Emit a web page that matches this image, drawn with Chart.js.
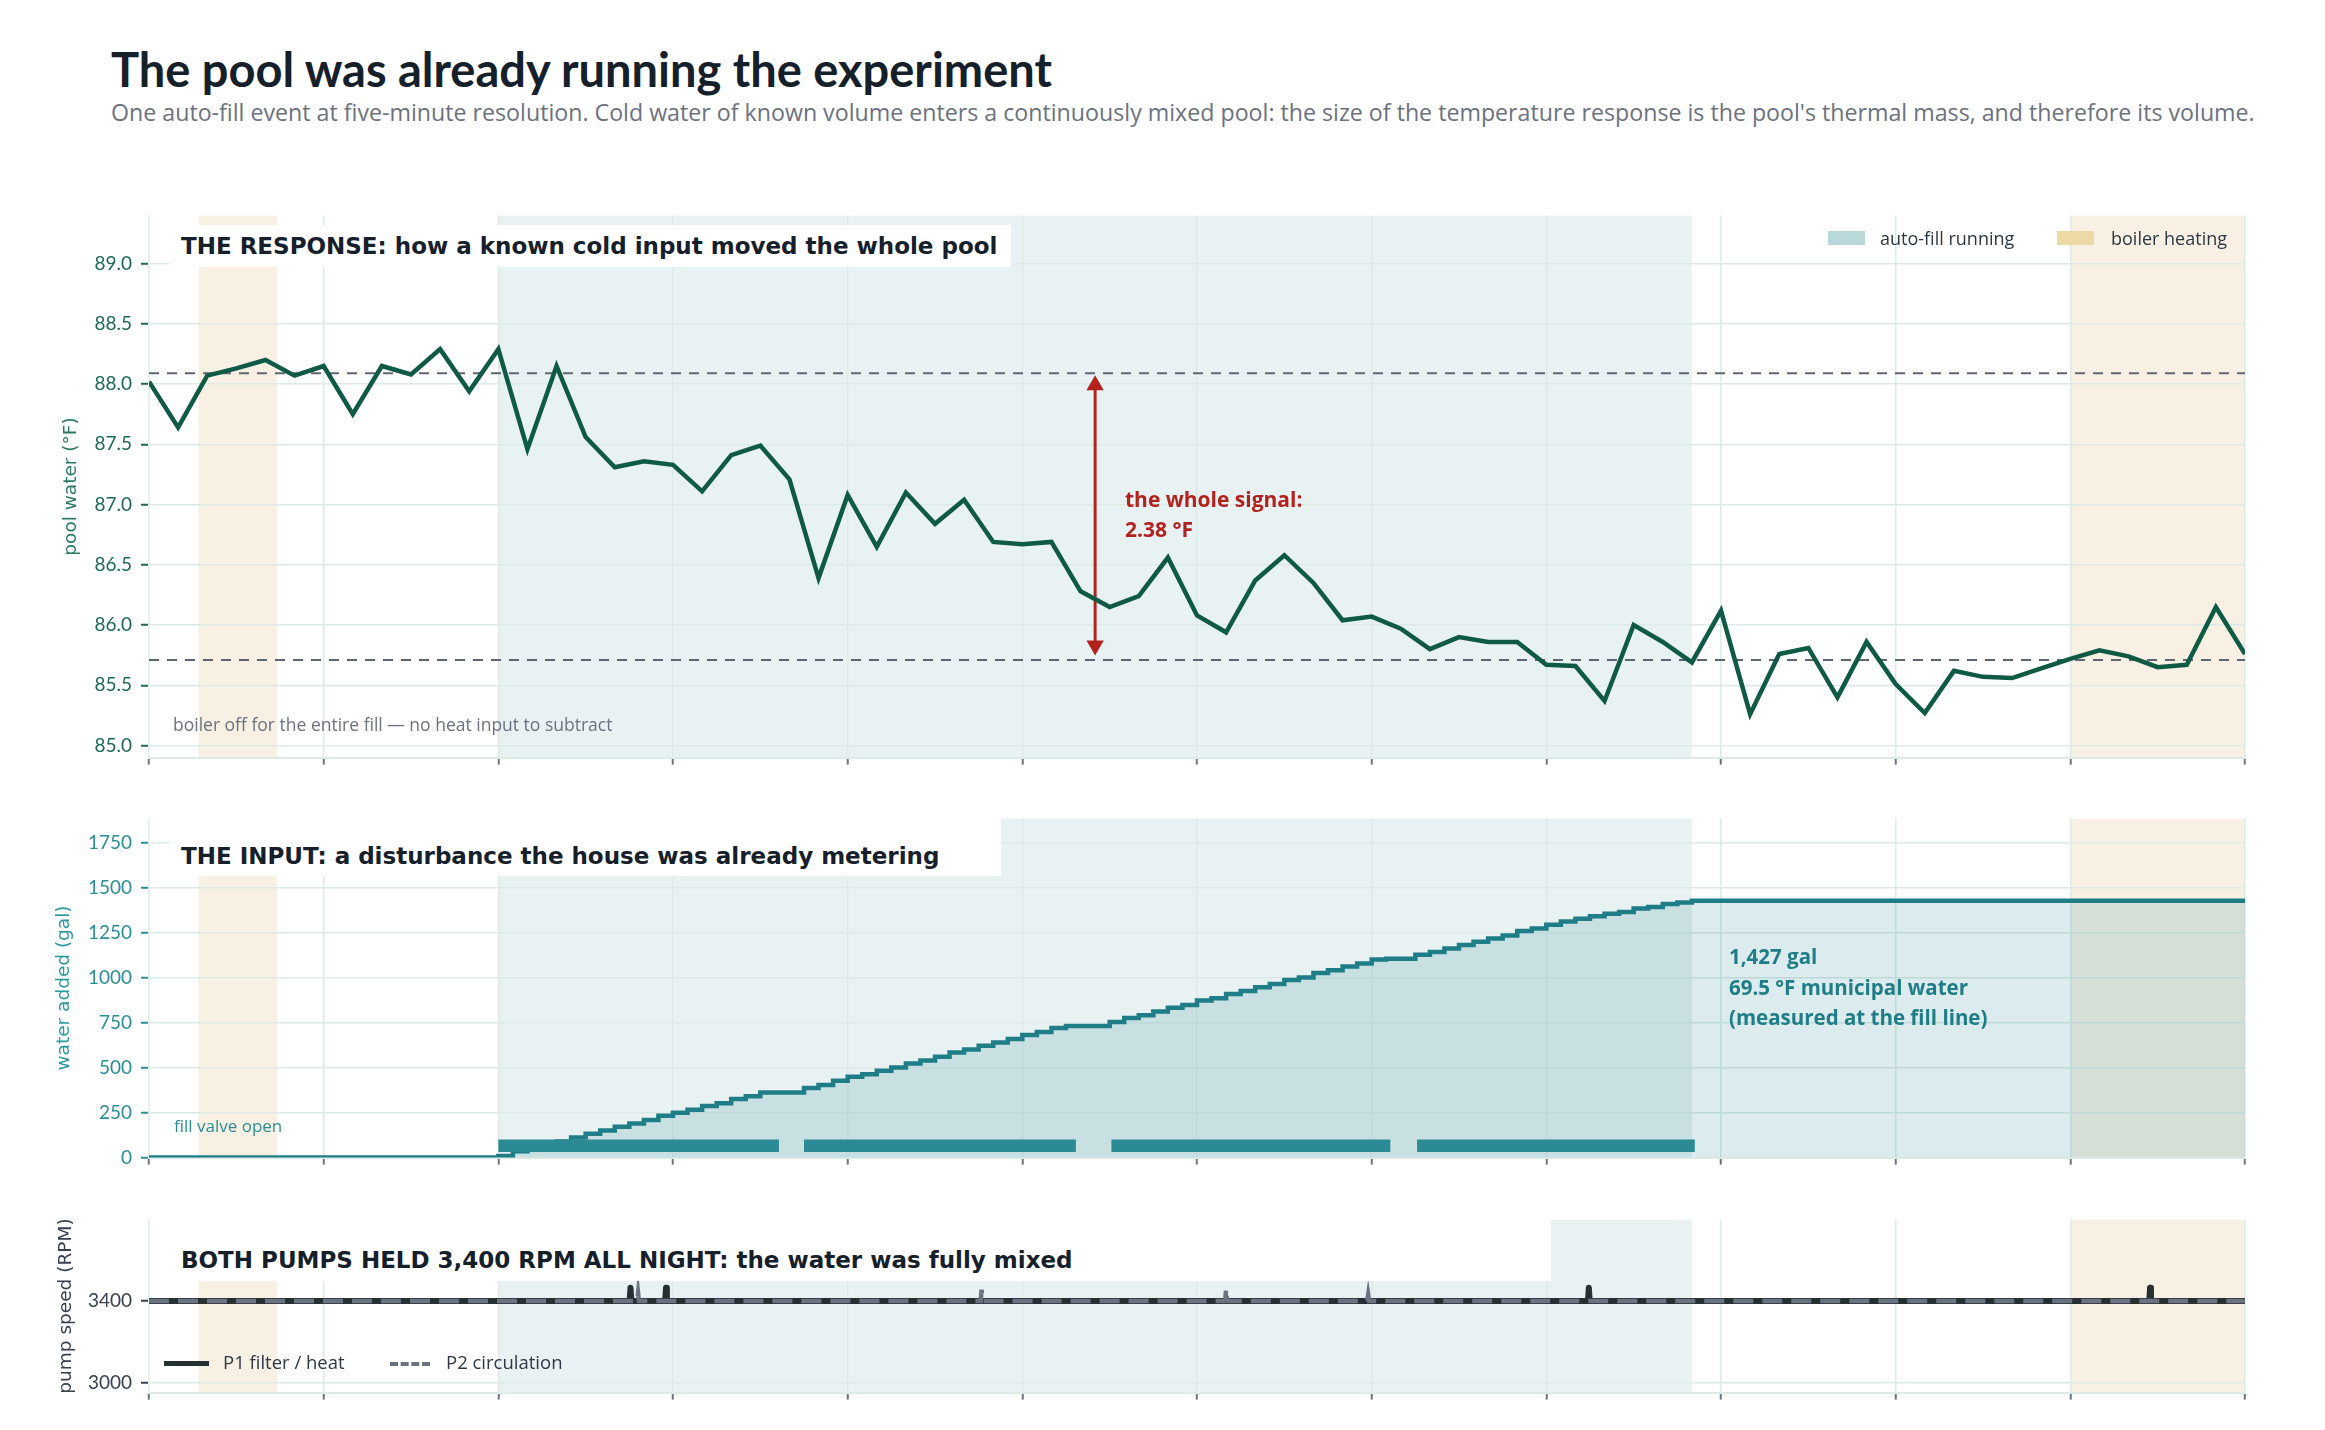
<!DOCTYPE html>
<html>
<head>
<meta charset="utf-8">
<title>The pool was already running the experiment</title>
<script src="https://cdn.jsdelivr.net/npm/chart.js@4.4.1/dist/chart.umd.min.js"></script>
<style>
  html, body { margin: 0; padding: 0; background: #fff; }
  #page { position: relative; width: 2325px; height: 1430px; overflow: hidden; font-family: 'Open Sans', Lato, sans-serif; }
  #page canvas { position: absolute; left: 0; }
  .txt { position: absolute; white-space: nowrap; line-height: 1; }
  .box { position: absolute; background: #fff; }
  .panel-title { font-family: 'DejaVu Sans', sans-serif; font-weight: bold; font-size: 23px; color: #15202b; }
  .swatch { position: absolute; width: 37px; height: 14px; }
</style>
</head>
<body>
<div id="page">
  <div class="txt" style="left:111px;top:46px;font-family:Lato,sans-serif;font-size:47px;font-weight:700;color:#15202b;">The pool was already running the experiment</div>
  <div class="txt" style="left:111px;top:101px;font-size:23.2px;color:#6b7280;">One auto-fill event at five-minute resolution. Cold water of known volume enters a continuously mixed pool: the size of the temperature response is the pool's thermal mass, and therefore its volume.</div>

  <canvas id="tempChart" width="2325" height="583" style="top:195px"></canvas>
  <canvas id="waterChart" width="2325" height="380" style="top:798px"></canvas>
  <canvas id="pumpChart" width="2325" height="214" style="top:1199px"></canvas>

  <!-- panel 1 -->
  <div class="box" style="left:169px;top:225px;width:842px;height:42px;"></div>
  <div class="txt panel-title" style="left:181px;top:235px;">THE RESPONSE: how a known cold input moved the whole pool</div>
  <div class="swatch" style="left:1828px;top:231px;background:#b8d8da;"></div>
  <div class="txt" style="left:1880px;top:229px;font-size:18px;color:#2d3748;">auto-fill running</div>
  <div class="swatch" style="left:2057px;top:231px;background:#ecd9a6;"></div>
  <div class="txt" style="left:2111px;top:229px;font-size:18px;color:#2d3748;">boiler heating</div>
  <div class="txt" style="left:1125px;top:484px;font-size:21px;font-weight:700;color:#b3221c;line-height:30px;">the whole signal:<br>2.38 °F</div>
  <div class="txt" style="left:173px;top:716px;font-size:17.5px;color:#6b7280;">boiler off for the entire fill — no heat input to subtract</div>

  <!-- panel 2 -->
  <div class="box" style="left:169px;top:798px;width:832px;height:78px;"></div>
  <div class="txt panel-title" style="left:181px;top:845px;">THE INPUT: a disturbance the house was already metering</div>
  <div class="txt" style="left:1729px;top:941px;font-size:20.5px;font-weight:700;color:#1e7d87;line-height:30.5px;">1,427 gal<br>69.5 °F municipal water<br>(measured at the fill line)</div>
  <div class="txt" style="left:174px;top:1117px;font-size:17px;color:#2a8f98;">fill valve open</div>

  <!-- panel 3 -->
  <div class="box" style="left:169px;top:1199px;width:1382px;height:82px;"></div>
  <div class="txt panel-title" style="left:181px;top:1249px;">BOTH PUMPS HELD 3,400 RPM ALL NIGHT: the water was fully mixed</div>
  <div style="position:absolute;left:164px;top:1361px;width:45px;height:0;border-top:5px solid #263033;"></div>
  <div class="txt" style="left:223px;top:1353px;font-size:18.5px;color:#2d3748;">P1 filter / heat</div>
  <div style="position:absolute;left:390px;top:1362px;width:40px;height:0;border-top:4px dashed #6b7280;"></div>
  <div class="txt" style="left:446px;top:1353px;font-size:18.5px;color:#2d3748;">P2 circulation</div>
</div>

<script>
// minutes from the start of the window
const xTickMinutes = [0, 30, 60, 90, 120, 150, 180, 210, 240, 270, 300, 330, 360];

// pool temperature, one reading every 5 minutes
const TEMP_STEP_MIN = 5;
const tempF = [
  88.02, 87.64, 88.07, 88.13, 88.20, 88.07, 88.15, 87.75, 88.15, 88.08,
  88.29, 87.94, 88.29, 87.46, 88.15, 87.56, 87.31, 87.36, 87.33, 87.11,
  87.41, 87.49, 87.21, 86.39, 87.08, 86.65, 87.10, 86.84, 87.04, 86.69,
  86.67, 86.69, 86.28, 86.15, 86.24, 86.56, 86.08, 85.94, 86.37, 86.58,
  86.35, 86.04, 86.07, 85.97, 85.80, 85.90, 85.86, 85.86, 85.67, 85.66,
  85.37, 86.00, 85.86, 85.69, 86.12, 85.26, 85.76, 85.81, 85.40, 85.86,
  85.51, 85.27, 85.62, 85.57, 85.56, 85.64, 85.72, 85.79, 85.74, 85.65,
  85.67, 86.15, 85.76
];
const tempTicks = [85.0, 85.5, 86.0, 86.5, 87.0, 87.5, 88.0, 88.5, 89.0];
const levelBefore = 88.09;
const levelAfter = 85.71;
const signalMin = 162.5;
const arrowEnds = [87.99, 85.83];

// cumulative water from the fill meter, every 2.5 minutes
const WATER_STEP_MIN = 2.5;
const waterGal = [
  0, 0, 0, 0, 0, 0, 0, 0, 0, 0, 0, 0, 0, 0, 0, 0, 0, 0, 0, 0, 0, 0, 0, 0,
  9, 35, 51, 73, 90, 112, 132, 150, 172, 189,
  209, 233, 249, 266, 286, 302, 326, 341, 361, 361,
  361, 386, 403, 427, 449, 463, 482, 500, 522, 540,
  560, 584, 601, 621, 639, 659, 681, 698, 720, 731,
  731, 731, 753, 775, 790, 812, 832, 848, 872, 885,
  909, 925, 946, 964, 986, 1001, 1025, 1041, 1061, 1078,
  1100, 1105, 1105, 1126, 1142, 1162, 1181, 1199, 1217, 1234,
  1258, 1272, 1294, 1311, 1327, 1340, 1355, 1364, 1383, 1392,
  1408, 1417,
  1427, 1427, 1427, 1427, 1427, 1427, 1427, 1427, 1427, 1427,
  1427, 1427, 1427, 1427, 1427, 1427, 1427, 1427, 1427, 1427,
  1427, 1427, 1427, 1427, 1427, 1427, 1427, 1427, 1427, 1427,
  1427, 1427, 1427, 1427, 1427, 1427, 1427, 1427, 1427
];
const waterTicks = [0, 250, 500, 750, 1000, 1250, 1500, 1750];
const valveOpen = [[60, 108.2], [112.5, 159.2], [165.3, 213.2], [217.8, 265.5]];
const valveBarGal = 66;

// pump speeds (sparse: flat at 3400 with brief blips)
const p1Min = [0, 82.55, 82.7, 82.85, 88.65, 88.8, 88.95, 247.15, 247.3, 247.45, 343.55, 343.7, 343.85, 360];
const p1Rpm = [3400, 3400, 3465, 3400, 3400, 3465, 3400, 3400, 3465, 3400, 3400, 3465, 3400, 3400];
const p2Min = [0, 83.85, 84.0, 84.15, 142.85, 143.0, 143.15, 184.85, 185.0, 185.15, 209.25, 209.4, 209.55, 360];
const p2Rpm = [3400, 3400, 3440, 3400, 3400, 3455, 3400, 3400, 3460, 3400, 3400, 3430, 3400, 3400];
const pumpTicks = [3000, 3400];

// shaded periods
const autoFillBand = [60, 265];
const boilerBands = [[8.5, 22], [330, 360]];

const GRID = '#dcebe6';
const RED = '#b3221c';

Chart.defaults.font.family = 'Lato, sans-serif';
Chart.defaults.animation = false;

const bandPlugin = {
  id: 'bands',
  beforeDraw(chart) {
    const { ctx, chartArea: a, scales: { x } } = chart;
    ctx.save();
    ctx.beginPath();
    ctx.rect(a.left, a.top, a.width, a.height);
    ctx.clip();
    const paint = (from, to, color) => {
      const l = x.getPixelForValue(from);
      const r = x.getPixelForValue(to);
      ctx.fillStyle = color;
      ctx.fillRect(l, a.top, r - l, a.height);
    };
    paint(autoFillBand[0], autoFillBand[1], '#e9f2f3');
    boilerBands.forEach(b => paint(b[0], b[1], '#f8f1e3'));
    ctx.restore();
  }
};

const xScale = () => ({
  type: 'linear',
  min: 0,
  max: 360,
  afterBuildTicks: s => { s.ticks = xTickMinutes.map(v => ({ value: v })); },
  afterFit: s => { s.height = 20; },
  ticks: { display: false },
  grid: { color: GRID, lineWidth: 1.5, tickColor: '#6b7280', tickLength: 7, tickWidth: 2 },
  border: { color: GRID, width: 2 }
});

const yScale = (min, max, ticks, color, title, titleColor, titlePad, fmt) => ({
  min: min,
  max: max,
  afterBuildTicks: s => { s.ticks = ticks.map(v => ({ value: v })); },
  afterFit: s => { s.width = 149; },
  ticks: { color: color, font: { size: 19 }, padding: 9, callback: fmt },
  grid: { color: GRID, lineWidth: 1.5, tickColor: color, tickLength: 8, tickWidth: 2 },
  border: { color: '#e6f0ed', width: 1.5 },
  title: {
    display: true,
    text: title,
    color: titleColor,
    font: { family: 'DejaVu Sans', size: 18.5 },
    padding: { top: titlePad, bottom: 0 }
  }
});

const commonOptions = (padTop, y) => ({
  responsive: false,
  layout: { padding: { top: padTop, right: 80, bottom: 0, left: 0 } },
  plugins: { legend: { display: false }, tooltip: { enabled: false } },
  scales: { x: xScale(), y: y }
});

// --- response: pool temperature
new Chart(document.getElementById('tempChart'), {
  type: 'line',
  data: {
    datasets: [
      {
        label: 'pool water (°F)',
        data: tempF.map((v, i) => ({ x: i * TEMP_STEP_MIN, y: v })),
        borderColor: '#0f5a44',
        borderWidth: 4.5,
        pointRadius: 0,
        order: 0
      },
      {
        label: 'level before fill',
        data: [{ x: 0, y: levelBefore }, { x: 360, y: levelBefore }],
        borderColor: '#5f6673',
        borderWidth: 2,
        borderDash: [10, 8],
        pointRadius: 0,
        order: 2
      },
      {
        label: 'level after fill',
        data: [{ x: 0, y: levelAfter }, { x: 360, y: levelAfter }],
        borderColor: '#5f6673',
        borderWidth: 2,
        borderDash: [10, 8],
        pointRadius: 0,
        order: 2
      },
      {
        label: 'whole signal',
        data: [{ x: signalMin, y: arrowEnds[0] }, { x: signalMin, y: arrowEnds[1] }],
        borderColor: RED,
        borderWidth: 3,
        pointStyle: 'triangle',
        pointRadius: 7,
        pointRotation: [0, 180],
        pointBackgroundColor: RED,
        pointBorderColor: RED,
        order: 1
      }
    ]
  },
  options: commonOptions(18, yScale(84.9, 89.4, tempTicks, '#1d6b55', 'pool water (°F)', '#2b7a5f', 60, v => v.toFixed(1))),
  plugins: [bandPlugin]
});

// --- input: water added
const valveData = [];
valveOpen.forEach(seg => {
  valveData.push({ x: seg[0], y: valveBarGal }, { x: seg[1], y: valveBarGal }, { x: seg[1], y: null });
});

new Chart(document.getElementById('waterChart'), {
  type: 'line',
  data: {
    datasets: [
      {
        label: 'water added (gal)',
        data: waterGal.map((v, h) => ({ x: h * WATER_STEP_MIN, y: v })),
        stepped: 'before',
        fill: 'origin',
        backgroundColor: 'rgba(38, 128, 142, 0.16)',
        borderColor: '#1e7d87',
        borderWidth: 4.5,
        pointRadius: 0,
        order: 1
      },
      {
        label: 'fill valve open',
        data: valveData,
        borderColor: '#2b8a94',
        borderWidth: 12.5,
        borderCapStyle: 'butt',
        spanGaps: false,
        pointRadius: 0,
        order: 0
      }
    ]
  },
  options: commonOptions(18, yScale(0, 1884, waterTicks, '#2a8f98', 'water added (gal)', '#2a9aa0', 53, v => String(v))),
  plugins: [bandPlugin]
});

// --- mixing: pump speeds
new Chart(document.getElementById('pumpChart'), {
  type: 'line',
  data: {
    datasets: [
      {
        label: 'P1 filter / heat',
        data: p1Min.map((m, i) => ({ x: m, y: p1Rpm[i] })),
        borderColor: '#263033',
        borderWidth: 6,
        borderJoinStyle: 'round',
        pointRadius: 0,
        order: 1
      },
      {
        label: 'P2 circulation',
        data: p2Min.map((m, i) => ({ x: m, y: p2Rpm[i] })),
        borderColor: '#6b7280',
        borderWidth: 4.5,
        borderDash: [20, 9],
        pointRadius: 0,
        order: 0
      }
    ]
  },
  options: commonOptions(18, yScale(2950, 3800, pumpTicks, '#374151', 'pump speed (RPM)', '#374151', 55, v => String(v))),
  plugins: [bandPlugin]
});
</script>
</body>
</html>
